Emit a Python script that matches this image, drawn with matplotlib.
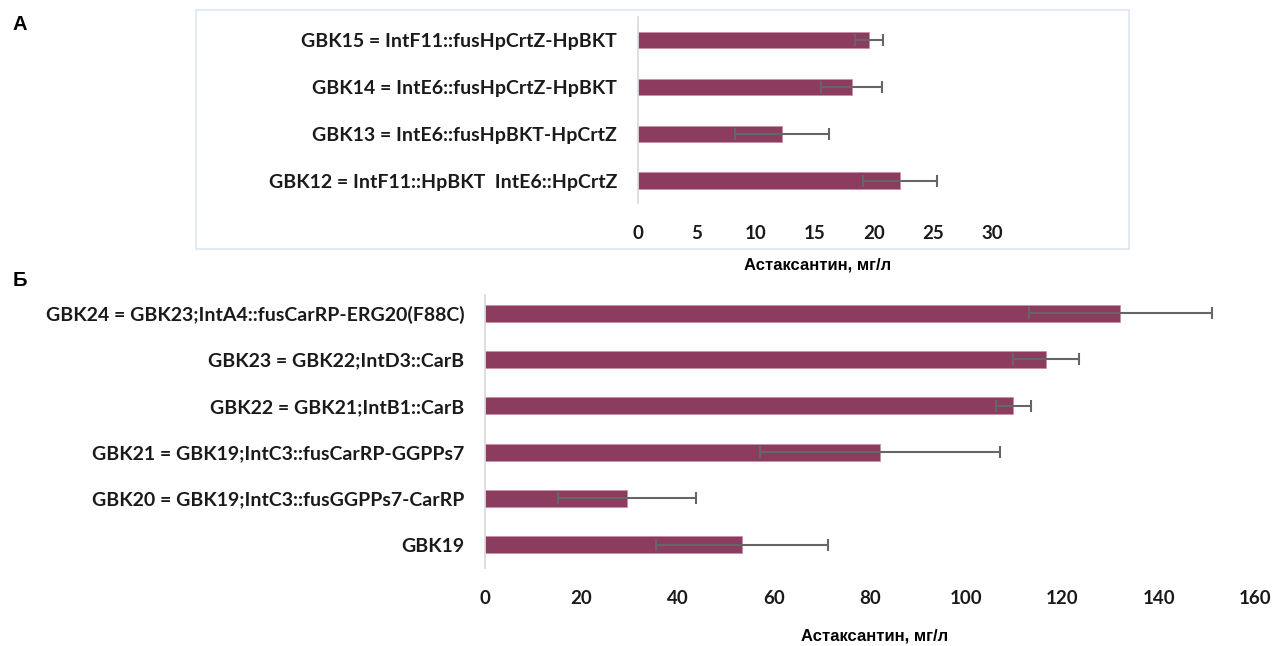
import matplotlib
matplotlib.use("Agg")
import matplotlib.pyplot as plt
from matplotlib.patches import Rectangle

# ---- data ----
labels_a = ["GBK12 = IntF11::HpBKT  IntE6::HpCrtZ",
            "GBK13 = IntE6::fusHpBKT-HpCrtZ",
            "GBK14 = IntE6::fusHpCrtZ-HpBKT",
            "GBK15 = IntF11::fusHpCrtZ-HpBKT"]
values_a = [22.2, 12.2, 18.1, 19.6]
errors_a = [3.1, 4.0, 2.6, 1.2]
ticks_a = [0, 5, 10, 15, 20, 25, 30]

labels_b = ["GBK19",
            "GBK20 = GBK19;IntC3::fusGGPPs7-CarRP",
            "GBK21 = GBK19;IntC3::fusCarRP-GGPPs7",
            "GBK22 = GBK21;IntB1::CarB",
            "GBK23 = GBK22;IntD3::CarB",
            "GBK24 = GBK23;IntA4::fusCarRP-ERG20(F88C)"]
values_b = [53.4, 29.5, 82.1, 109.8, 116.6, 132.0]
errors_b = [17.9, 14.4, 25.0, 3.6, 6.9, 19.0]
ticks_b = [0, 20, 40, 60, 80, 100, 120, 140, 160]

xlabel = "Астаксантин, мг/л"

BAR = "#8C3D5F"
EDGE = "#C98FA8"
ERR = "#666666"
AXC = "#D9D9D9"
LBL_FONT = dict(family=["Lato", "DejaVu Sans"], weight="bold")
ARIAL = ["Liberation Sans", "DejaVu Sans"]

W, H = 1275, 646
fig = plt.figure(figsize=(W / 100, H / 100), dpi=100)


def px_axes(x0, y0, x1, y1):
    return fig.add_axes([x0 / W, 1 - y1 / H, (x1 - x0) / W, (y1 - y0) / H])


def style(ax, labels, ticks, lsize, tsize):
    for s in ["top", "right", "bottom"]:
        ax.spines[s].set_visible(False)
    ax.spines["left"].set_color(AXC)
    ax.spines["left"].set_linewidth(1.2)
    ax.set_yticks(range(len(labels)))
    ax.set_yticklabels(labels, fontsize=lsize, color="#1a1a1a", **LBL_FONT)
    ax.set_xticks(ticks)
    ax.set_xticklabels([str(t) for t in ticks], fontsize=tsize, color="#1a1a1a", **LBL_FONT)
    ax.tick_params(axis="y", length=0, pad=15)
    ax.tick_params(axis="x", length=0, pad=16)
    ax.set_facecolor("none")


# frame around panel A
fig.patches.append(Rectangle((196 / W, 1 - 249 / H), (1129 - 196) / W, (249 - 10) / H,
                             transform=fig.transFigure, facecolor="none",
                             edgecolor="#DCE5F0", linewidth=1.2))

# ---- panel A ----
axA = px_axes(638, 17, 992, 203)
yA = list(range(len(labels_a)))
axA.barh(yA, values_a, height=0.36, color=BAR, edgecolor=EDGE, linewidth=0.6,
         xerr=errors_a, error_kw=dict(ecolor=ERR, elinewidth=1.5, capsize=4.5, capthick=1.5))
axA.set_xlim(0, 30)
axA.set_ylim(-0.47, 3.49)
style(axA, labels_a, ticks_a, 14, 13.5)
fig.text(818 / W, 1 - 265 / H, xlabel, ha="center", va="center", fontsize=12,
         family=ARIAL, weight="bold")

# ---- panel B ----
axB = px_axes(485, 295, 1255, 568)
yB = list(range(len(labels_b)))
axB.barh(yB, values_b, height=0.37, color=BAR, edgecolor=EDGE, linewidth=0.6,
         xerr=errors_b, error_kw=dict(ecolor=ERR, elinewidth=1.5, capsize=4.5, capthick=1.5))
axB.set_xlim(0, 160)
axB.set_ylim(-0.5, 5.39)
style(axB, labels_b, ticks_b, 14, 13.5)
fig.text(875 / W, 1 - 636 / H, xlabel, ha="center", va="center", fontsize=12,
         family=ARIAL, weight="bold")

# panel letters
fig.text(20 / W, 1 - 25 / H, "А", ha="center", va="center", fontsize=14.5,
         family=ARIAL, weight="bold")
fig.text(20 / W, 1 - 281 / H, "Б", ha="center", va="center", fontsize=14.5,
         family=ARIAL, weight="bold")

fig.savefig("out.png", dpi=100, facecolor="white")
